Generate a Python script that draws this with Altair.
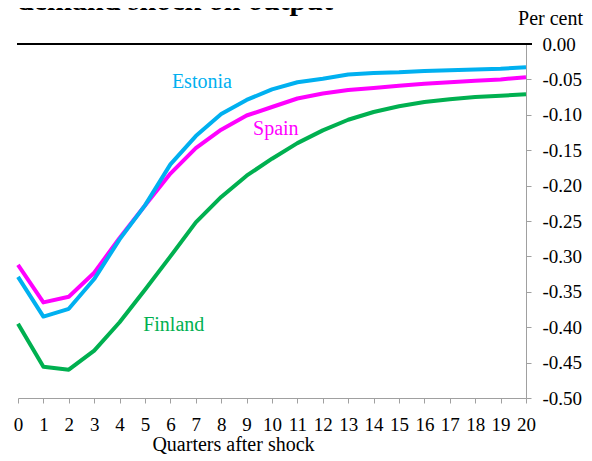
import altair as alt
import pandas as pd

# ---- data ----
quarters = list(range(21))
estonia = [-0.329, -0.385, -0.374, -0.332, -0.276, -0.228, -0.170, -0.130, -0.099, -0.079,
           -0.064, -0.054, -0.049, -0.043, -0.041, -0.040, -0.038, -0.037, -0.036, -0.035, -0.033]
spain = [-0.312, -0.365, -0.357, -0.323, -0.274, -0.228, -0.183, -0.147, -0.121, -0.101,
         -0.089, -0.077, -0.070, -0.065, -0.062, -0.059, -0.056, -0.054, -0.052, -0.050, -0.047]
finland = [-0.395, -0.456, -0.460, -0.433, -0.393, -0.347, -0.300, -0.252, -0.216, -0.186,
           -0.162, -0.140, -0.122, -0.107, -0.096, -0.088, -0.082, -0.078, -0.075, -0.073, -0.071]

series_names = ["Finland", "Spain", "Estonia"]
series_colors = ["#00B050", "#FF00FF", "#00B0F0"]
y_ticks = [0.0, -0.05, -0.10, -0.15, -0.20, -0.25, -0.30, -0.35, -0.40, -0.45, -0.50]

label_text = ["Estonia", "Spain", "Finland"]
label_x = [7.24, 10.15, 6.13]
label_y = [-0.054, -0.120, -0.397]

title_text = "demand shock on output"
unit_text = "Per cent"
x_title = "Quarters after shock"

# ---- tables ----
rows = []
for name, vals in zip(series_names, [finland, spain, estonia]):
    for q, v in zip(quarters, vals):
        rows.append({"series": name, "q": q, "v": v})
df = pd.DataFrame(rows)
labels_df = pd.DataFrame({"series": label_text, "q": label_x, "v": label_y})

W, H = 508, 354
FONT = "Liberation Serif"
GRAY = "#A0A0A0"

x_scale = alt.Scale(domain=[0, 20], nice=False, zero=False)
y_scale = alt.Scale(domain=[-0.5, 0], nice=False)
color_scale = alt.Scale(domain=series_names, range=series_colors)

x_axis = alt.Axis(
    values=quarters, tickSize=5, labelPadding=12, domainColor=GRAY, tickColor=GRAY,
    labelFont=FONT, labelFontSize=19, labelColor="black", grid=False,
    labelFlush=False, labelOverlap=False,
    title=x_title, titleFont=FONT, titleFontSize=20, titleFontWeight="normal",
    titleColor="black", titleX=215, titleY=46, titleBaseline="middle", titleAlign="center",
)
y_axis = alt.Axis(
    orient="right", values=y_ticks, tickSize=5, labelPadding=11,
    domainColor=GRAY, tickColor=GRAY, labelFont=FONT, labelFontSize=19,
    labelColor="black", grid=False, labelFlush=False, labelOverlap=False,
    labelExpr="(datum.value < -0.0001 ? '-' : '') + format(abs(datum.value), '.2f')",
    title=None,
)

lines = alt.Chart(df).mark_line(strokeWidth=4, strokeJoin="round").encode(
    x=alt.X("q:Q", scale=x_scale, axis=x_axis),
    y=alt.Y("v:Q", scale=y_scale, axis=y_axis),
    color=alt.Color("series:N", scale=color_scale, legend=None),
)

zero_line = alt.Chart(pd.DataFrame({"v": [0.0]})).mark_rule(color="black", strokeWidth=2).encode(
    y=alt.Y("v:Q", scale=y_scale, axis=y_axis),
    x=alt.value(-1),
    x2=alt.value(514),
)

labels = alt.Chart(labels_df).mark_text(font=FONT, fontSize=20, align="center", baseline="middle").encode(
    x=alt.X("q:Q", scale=x_scale, axis=x_axis),
    y=alt.Y("v:Q", scale=y_scale, axis=y_axis),
    text="series:N",
    color=alt.Color("series:N", scale=color_scale, legend=None),
)

title = alt.Chart(pd.DataFrame({"t": [title_text]})).mark_text(
    font=FONT, fontSize=30, fontWeight="bold", align="left", baseline="alphabetic", color="black"
).encode(text="t:N", x=alt.value(-1), y=alt.value(-34.5))

unit = alt.Chart(pd.DataFrame({"t": [unit_text]})).mark_text(
    font=FONT, fontSize=20, align="right", baseline="middle", color="black"
).encode(text="t:N", x=alt.value(565), y=alt.value(-25))

chart = alt.layer(zero_line, lines, labels, title, unit).properties(
    width=W, height=H,
    autosize=alt.AutoSizeParams(type="none"),
    padding={"left": 10, "top": 36, "right": 58, "bottom": 57},
).configure_view(stroke=None).configure_axis(labelOverlap=False, grid=False)

chart.save("out.html", embed_options={"renderer": "svg", "actions": False})
